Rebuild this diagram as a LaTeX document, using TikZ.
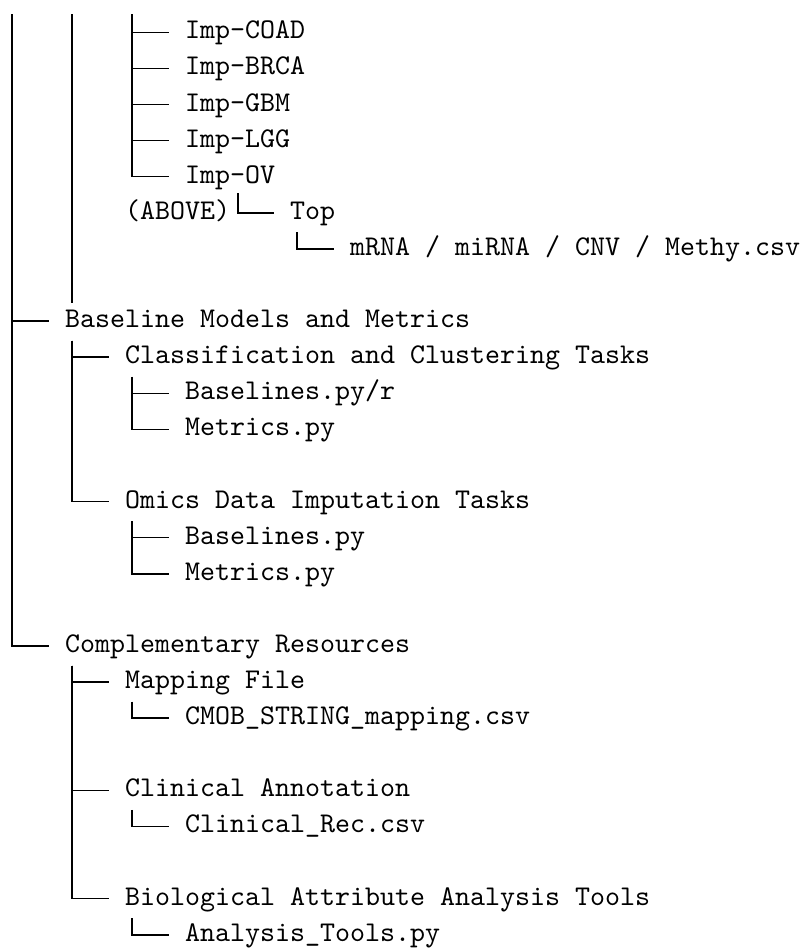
\documentclass[tikz,border=0pt]{standalone}
\usepackage{tikz}
\usetikzlibrary{calc}

\begin{document}
\begin{tikzpicture}
		[x=5.25pt,y=-12.635pt]
			\tikzstyle{every node}=[anchor=west, inner sep=0pt, font=\ttfamily,
		text height=8.925pt, text depth=4.375pt]
			\tikzstyle{twig}=[line width=0.5pt]
		\useasboundingbox (-0.3,-0.895) rectangle (53.167,25.366);
		%-----lines coming from above
		 \coordinate (c0) at (0.5,-0.5);
		 \coordinate (c1) at (4.5,-0.5);
		 \coordinate (c2) at (8.5,-0.5);
		 \coordinate (e1) at (4.5,7.5);
		%-----imputation data
		 \node (COAD) at (12,0) {Imp-COAD};
		 \node (BRCA) at (12,1) {Imp-BRCA};
		 \node (GBM)  at (12,2) {Imp-GBM};
		 \node (LGG)  at (12,3) {Imp-LGG};
		 \node (OV)   at (12,4) {Imp-OV};
		 \node (ABV)  at (8,5)  {(ABOVE)};
		 \node (TOP)  at (19,5) {Top};
		 \node (OMF)  at (23,6) {mRNA / miRNA / CNV / Methy.csv};
		%-----baselines
		 \node (BMM) at (4,8)   {Baseline Models and Metrics};
		 \node (CCT) at (8,9)   {Classification and Clustering Tasks};
		 \node (BLR) at (12,10) {Baselines.py/r};
		 \node (MTA) at (12,11) {Metrics.py};
		 \node (ODI) at (8,13)  {Omics Data Imputation Tasks};
		 \node (BLP) at (12,14) {Baselines.py};
		 \node (MTB) at (12,15) {Metrics.py};
		%-----resources
		 \node (CR)  at (4,17)  {Complementary Resources};
		 \node (MF)  at (8,18)  {Mapping File};
		 \node (CSM) at (12,19) {CMOB\_STRING\_mapping.csv};
		 \node (CA)  at (8,21)  {Clinical Annotation};
		 \node (CRC) at (12,22) {Clinical\_Rec.csv};
		 \node (BAA) at (8,24)  {Biological Attribute Analysis Tools};
		 \node (ATP) at (12,25) {Analysis\_Tools.py};
		 
		 
		 \foreach \from/\to in {c0/BMM,c0/CR,c2/COAD,c2/BRCA,c2/GBM,c2/LGG,c2/OV}
		 \draw[twig] (\from) |- ([xshift=-5.25pt]\to.west);
		 
		 \foreach \from/\to in {TOP/OMF,BMM/CCT,BMM/ODI,CCT/BLR,CCT/MTA,ODI/BLP,ODI/MTB,CR/MF,CR/CA,CR/BAA,MF/CSM,CA/CRC,BAA/ATP}
		 \draw[twig] ([xshift=2.625pt]\from.south west) |- ([xshift=-5.25pt]\to.west);
		 
		 \draw[twig] (c1) -- (e1);
		 \draw[twig] ([xshift=2.625pt]ABV.north east) |- ([xshift=-5.25pt]TOP.west);
		 
		 
		\end{tikzpicture}
\end{document}
